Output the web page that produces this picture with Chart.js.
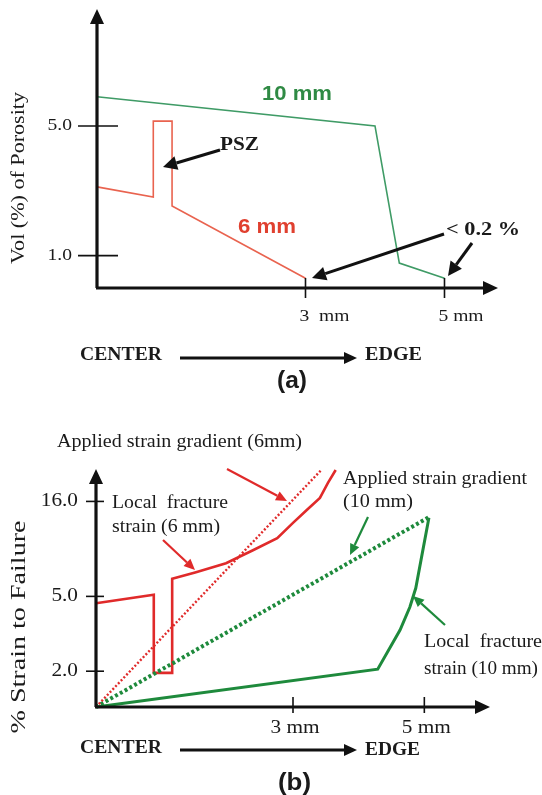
<!DOCTYPE html>
<html lang="en">
<head>
    <meta charset="UTF-8">
    <title>Porosity and strain to failure</title>
    <script src="https://cdn.jsdelivr.net/npm/chart.js"></script>
    <style>
        body { margin: 0; background: #fff; }
        canvas { position: absolute; left: 0; }
    </style>
</head>
<body>
    <canvas id="chartA" width="542" height="400" style="top:0"></canvas>
    <canvas id="chartB" width="542" height="395" style="top:400px"></canvas>
    <script>
        // (a) porosity vs distance from centre (mm)
        const poro6X = [0, 0.81, 0.81, 1.08, 1.08, 3.0];
        const poro6Y = [3.12, 2.81, 5.15, 5.15, 2.53, 0.3];
        const poro10X = [0, 4.0, 4.35, 5.0];
        const poro10Y = [5.9, 5.0, 0.77, 0.3];
        const poroTicks = [1.0, 5.0];
        const distTicksA = ['3  mm', '5 mm'];

        // (b) strain to failure (log spaced axis)
        const local6X = [0, 0.88, 0.88, 1.16, 1.16, 1.51, 1.98, 2.39, 2.76, 3.0, 3.21, 3.41, 3.53, 3.65];
        const local6Y = [4.6, 5.1, 1.96, 1.96, 6.2, 6.7, 7.5, 8.8, 10.2, 12.3, 14.4, 16.7, 20.0, 23.5];
        const applied6X = [0, 3.43];
        const applied6Y = [1.29, 23.5];
        const applied10X = [0, 5.07];
        const applied10Y = [1.29, 13.2];
        const local10X = [0, 4.29, 4.63, 4.78, 4.87, 4.95, 5.07];
        const local10Y = [1.29, 2.05, 3.31, 4.39, 5.54, 7.82, 13.1];
        const strainTicks = [2.0, 5.0, 16.0];
        const distTicks = [3, 5];
        const distTicksB = ['3 mm', '5 mm'];

        const pts = (xs, ys) => xs.map((x, i) => ({ x: x, y: ys[i] }));
        const SERIF = 'Liberation Serif';
        const SANS = 'Liberation Sans';

        function drawText(ctx, t) {
            ctx.save();
            ctx.font = t.font;
            ctx.fillStyle = t.color || '#1a1a1a';
            ctx.textBaseline = 'middle';
            ctx.textAlign = t.align || 'left';
            const m = ctx.measureText(t.text).width;
            const sx = t.w ? t.w / m : (t.sx || 1);
            ctx.translate(t.x, t.y);
            if (t.rot) ctx.rotate(t.rot);
            ctx.scale(sx, 1);
            ctx.fillText(t.text, 0, 0);
            ctx.restore();
        }

        function arrow(ctx, x1, y1, x2, y2, color, lw, len, half) {
            const a = Math.atan2(y2 - y1, x2 - x1);
            const bx = x2 - len * Math.cos(a), by = y2 - len * Math.sin(a);
            ctx.save();
            ctx.strokeStyle = color;
            ctx.fillStyle = color;
            ctx.lineWidth = lw;
            ctx.beginPath();
            ctx.moveTo(x1, y1);
            ctx.lineTo(bx, by);
            ctx.stroke();
            ctx.beginPath();
            ctx.moveTo(x2, y2);
            ctx.lineTo(bx + half * Math.sin(a), by - half * Math.cos(a));
            ctx.lineTo(bx - half * Math.sin(a), by + half * Math.cos(a));
            ctx.closePath();
            ctx.fill();
            ctx.restore();
        }

        // hand drawn axes with arrow heads, ticks and annotations
        function decor(opts) {
            return {
                id: 'decor',
                afterDatasetsDraw(chart) {
                    const ctx = chart.ctx;
                    const area = chart.chartArea;
                    const xs = chart.scales.x, ys = chart.scales.y;
                    ctx.save();
                    ctx.strokeStyle = '#111';
                    ctx.lineWidth = opts.tickWidth;
                    opts.yTicks.forEach(v => {
                        const y = ys.getPixelForValue(v);
                        ctx.beginPath();
                        ctx.moveTo(opts.yTickFrom, y);
                        ctx.lineTo(opts.yTickTo, y);
                        ctx.stroke();
                        drawText(ctx, { text: v.toFixed(1), x: opts.yLabelRight, y: y, align: 'right',
                            font: opts.tickFont, sx: opts.tickStretch });
                    });
                    distTicks.forEach((v, i) => {
                        const x = xs.getPixelForValue(v);
                        ctx.beginPath();
                        ctx.moveTo(x, area.bottom - opts.xTickUp);
                        ctx.lineTo(x, area.bottom + opts.xTickDown);
                        ctx.stroke();
                        drawText(ctx, { text: opts.xLabels[i], x: x + opts.xLabelDx, y: area.bottom + opts.xLabelDy,
                            align: opts.xLabelAlign, font: opts.tickFont, sx: opts.tickStretch });
                    });
                    ctx.restore();
                    arrow(ctx, area.left, area.bottom, area.left, area.top, '#111', opts.axisWidth, 15, 7);
                    arrow(ctx, area.left - 1, area.bottom, area.right, area.bottom, '#111', opts.axisWidth, 15, 7);
                    opts.texts.forEach(t => drawText(ctx, t));
                    opts.arrows.forEach(a => arrow(ctx, a[0], a[1], a[2], a[3], a[4], a[5], a[6], a[7]));
                }
            };
        }

        const baseOptions = (pad, xMax, yScale) => ({
            responsive: false,
            animation: false,
            devicePixelRatio: 1,
            layout: { padding: pad },
            plugins: { legend: { display: false }, tooltip: { enabled: false } },
            elements: { point: { radius: 0 }, line: { tension: 0 } },
            scales: {
                x: { type: 'linear', min: 0, max: xMax, display: false },
                y: Object.assign({ display: false }, yScale)
            }
        });

        new Chart(document.getElementById('chartA'), {
            type: 'line',
            data: {
                datasets: [
                    { data: pts(poro10X, poro10Y), borderColor: '#3f9b66', borderWidth: 1.6, clip: false },
                    { data: pts(poro6X, poro6Y), borderColor: '#e9634f', borderWidth: 1.6, clip: false }
                ]
            },
            options: baseOptions({ left: 97, top: 9, right: 44, bottom: 112}, 5.77,
                { type: 'linear', min: 0, max: 8.61 }),
            plugins: [decor({
                yTicks: poroTicks, yTickFrom: 78, yTickTo: 118, yLabelRight: 72,
                xLabels: distTicksA, xLabelDx: -6, xLabelDy: 29, xLabelAlign: 'left',
                xTickUp: 10, xTickDown: 10, tickWidth: 1.6, axisWidth: 3.2,
                tickFont: '17px ' + SERIF, tickStretch: 1.15,
                texts: [
                    { text: 'Vol (%) of Porosity', x: 19, y: 178, rot: -Math.PI / 2, align: 'center', font: '18px ' + SERIF, w: 172 },
                    { text: '10 mm', x: 262, y: 94, font: 'bold 21px ' + SANS, color: '#2f8a44', w: 70 },
                    { text: '6 mm', x: 238, y: 227, font: 'bold 21px ' + SANS, color: '#e0402f', w: 58 },
                    { text: 'PSZ', x: 220, y: 145, font: 'bold 19px ' + SERIF, w: 39 },
                    { text: '< 0.2 %', x: 446, y: 230, font: 'bold 19px ' + SERIF, w: 74 },
                    { text: 'CENTER', x: 80, y: 355, font: 'bold 18px ' + SERIF, w: 82 },
                    { text: 'EDGE', x: 365, y: 355, font: 'bold 18px ' + SERIF, w: 57 },
                    { text: '(a)', x: 277, y: 382, font: 'bold 23px ' + SANS, w: 30 }
                ],
                arrows: [
                    [220, 150, 163, 167, '#111', 3, 14, 7],
                    [444, 234, 312, 278, '#111', 3, 14, 7],
                    [472, 243, 448, 276, '#111', 3, 14, 7],
                    [180, 358, 357, 358, '#111', 3, 13, 6]
                ]
            })]
        });

        new Chart(document.getElementById('chartB'), {
            type: 'line',
            data: {
                datasets: [
                    { data: pts(applied6X, applied6Y), borderColor: '#e02a2a', borderWidth: 2.4, borderDash: [2, 2], clip: false },
                    { data: pts(applied10X, applied10Y), borderColor: '#1e8a3c', borderWidth: 4, borderDash: [3, 2.5], clip: false },
                    { data: pts(local10X, local10Y), borderColor: '#1e8a3c', borderWidth: 3, clip: false },
                    { data: pts(local6X, local6Y), borderColor: '#e02a2a', borderWidth: 2.6, clip: false }
                ]
            },
            options: baseOptions({ left: 96, top: 69, right: 52, bottom: 88 }, 6.0,
                { type: 'logarithmic', min: 1.29, max: 23.8 }),
            plugins: [decor({
                yTicks: strainTicks, yTickFrom: 86, yTickTo: 104, yLabelRight: 78,
                xLabels: distTicksB, xLabelDx: 2, xLabelDy: 21, xLabelAlign: 'center',
                xTickUp: 10, xTickDown: 6, tickWidth: 1.6, axisWidth: 3.2,
                tickFont: '19px ' + SERIF, tickStretch: 1.12,
                texts: [
                    { text: '% Strain to Failure', x: 20, y: 227, rot: -Math.PI / 2, align: 'center', font: '20px ' + SERIF, w: 213 },
                    { text: 'Applied strain gradient (6mm)', x: 57, y: 42, font: '18px ' + SERIF, w: 245 },
                    { text: 'Local  fracture', x: 112, y: 103, font: '18px ' + SERIF, w: 116 },
                    { text: 'strain (6 mm)', x: 112, y: 127, font: '18px ' + SERIF, w: 108 },
                    { text: 'Applied strain gradient', x: 343, y: 79, font: '18px ' + SERIF, w: 184 },
                    { text: '(10 mm)', x: 343, y: 102, font: '18px ' + SERIF, w: 70 },
                    { text: 'Local  fracture', x: 424, y: 242, font: '18px ' + SERIF, w: 118 },
                    { text: 'strain (10 mm)', x: 424, y: 269, font: '18px ' + SERIF, w: 114 },
                    { text: 'CENTER', x: 80, y: 348, font: 'bold 18px ' + SERIF, w: 82 },
                    { text: 'EDGE', x: 365, y: 350, font: 'bold 18px ' + SERIF, w: 55 },
                    { text: '(b)', x: 278, y: 384, font: 'bold 23px ' + SANS, w: 33 }
                ],
                arrows: [
                    [227, 69, 287, 101, '#e02a2a', 2.2, 11, 5],
                    [163, 140, 195, 170, '#e02a2a', 2.2, 11, 5],
                    [368, 117, 350, 155, '#1e8a3c', 2.2, 11, 5],
                    [445, 225, 413, 196, '#1e8a3c', 2.2, 11, 5],
                    [180, 350, 357, 350, '#111', 3, 13, 6]
                ]
            })]
        });
    </script>
</body>
</html>
